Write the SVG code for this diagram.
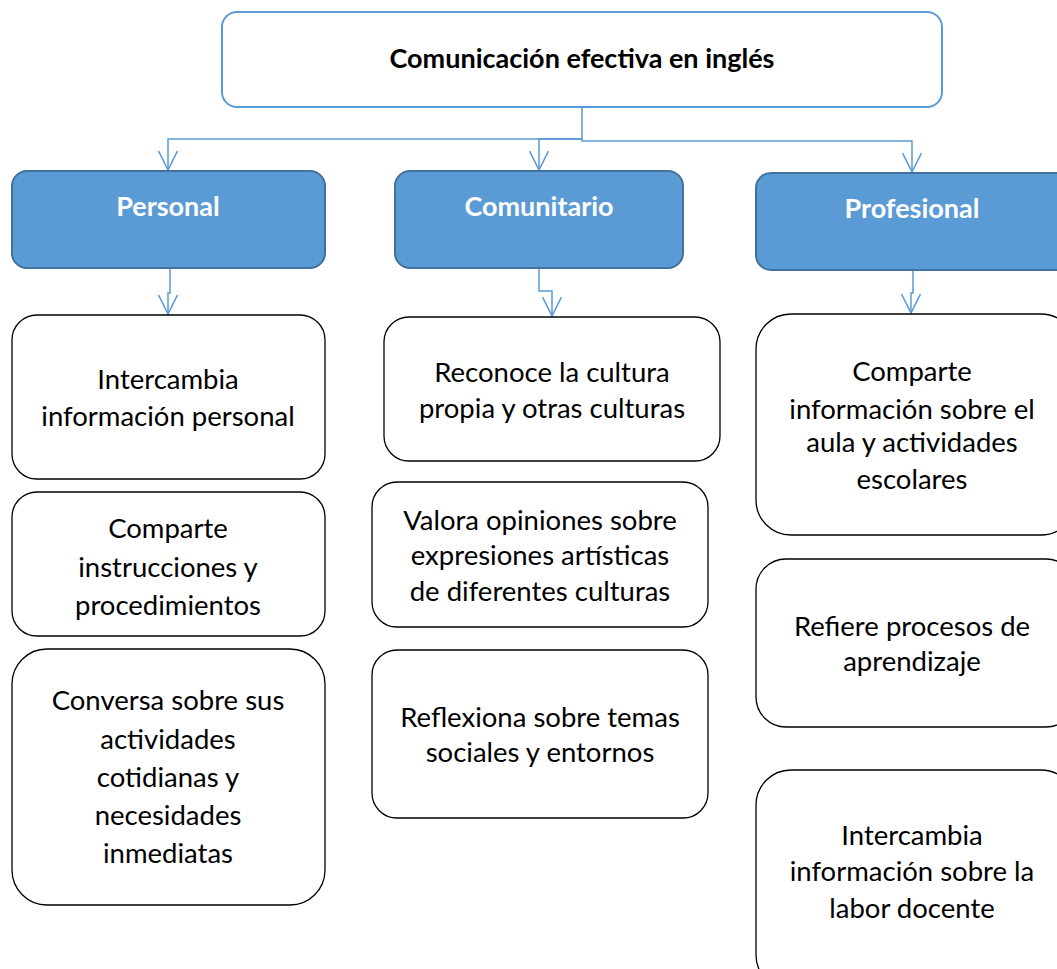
<svg xmlns="http://www.w3.org/2000/svg" width="1057" height="969" viewBox="0 0 1057 969">
<defs>
<marker id="arr" markerWidth="20" markerHeight="20" refX="16" refY="8" orient="auto" markerUnits="userSpaceOnUse" viewBox="0 0 17 16" overflow="visible">
<path d="M0,0 L16,8 L0,16" fill="none" stroke="#5b9bd5" stroke-width="1.3"/>
</marker>
<style>
.top{fill:#fff;stroke:#5b9bd5;stroke-width:2}
.cat{fill:#5b9bd5;stroke:#41719c;stroke-width:2}
.item{fill:#fff;stroke:#000;stroke-width:1.3}
.t{font-family:Lato,"Liberation Sans",sans-serif;font-size:27.5px;fill:#000;text-anchor:middle}
.h{font-family:Lato,"Liberation Sans",sans-serif;font-size:27px;font-weight:bold;fill:#000;text-anchor:middle}
.c{font-family:Lato,"Liberation Sans",sans-serif;font-size:27px;font-weight:bold;fill:#fff;text-anchor:middle}
.ln{fill:none;stroke:#5b9bd5;stroke-width:1.5}
</style>
</defs>
<g id="connectors">
<path class="ln" d="M582,107 V139 H168 V170" marker-end="url(#arr)"/>
<path class="ln" d="M582,139 H539 V170" marker-end="url(#arr)"/>
<path class="ln" d="M582,139 V141 H912 V172" marker-end="url(#arr)"/>
<path class="ln" d="M170,268 V293 H168 V314" marker-end="url(#arr)"/>
<path class="ln" d="M539,268 V291 H552 V316" marker-end="url(#arr)"/>
<path class="ln" d="M913,270 V293 H911 V313" marker-end="url(#arr)"/>
</g>
<g id="root">
<rect class="top" x="222" y="12" width="720" height="95" rx="15"/>
<text class="h" x="582" y="68">Comunicación efectiva en inglés</text>
</g>
<g id="personal">
<rect class="cat" x="12" y="171" width="313" height="97" rx="15"/>
<text class="c" x="168" y="216">Personal</text>
</g>
<g id="comunitario">
<rect class="cat" x="395" y="171" width="288" height="97" rx="15"/>
<text class="c" x="539" y="216">Comunitario</text>
</g>
<g id="profesional">
<rect class="cat" x="756" y="173" width="320" height="97" rx="15"/>
<text class="c" x="912" y="218">Profesional</text>
</g>
<g id="p1">
<rect class="item" x="12" y="315" width="313" height="164" rx="25"/>
<text class="t" x="168" y="389">Intercambia</text>
<text class="t" x="168" y="426">información personal</text>
</g>
<g id="p2">
<rect class="item" x="12" y="492" width="313" height="144" rx="25"/>
<text class="t" x="168" y="538">Comparte</text>
<text class="t" x="168" y="577">instrucciones y</text>
<text class="t" x="168" y="615">procedimientos</text>
</g>
<g id="p3">
<rect class="item" x="12" y="649" width="313" height="256" rx="35"/>
<text class="t" x="168" y="710">Conversa sobre sus</text>
<text class="t" x="168" y="749">actividades</text>
<text class="t" x="168" y="787">cotidianas y</text>
<text class="t" x="168" y="825">necesidades</text>
<text class="t" x="168" y="863">inmediatas</text>
</g>
<g id="c1">
<rect class="item" x="384" y="317" width="336" height="144" rx="25"/>
<text class="t" x="552" y="382">Reconoce la cultura</text>
<text class="t" x="552" y="418">propia y otras culturas</text>
</g>
<g id="c2">
<rect class="item" x="372" y="482" width="336" height="145" rx="25"/>
<text class="t" x="540" y="530">Valora opiniones sobre</text>
<text class="t" x="540" y="565">expresiones artísticas</text>
<text class="t" x="540" y="601">de diferentes culturas</text>
</g>
<g id="c3">
<rect class="item" x="372" y="650" width="336" height="168" rx="25"/>
<text class="t" x="540" y="727">Reflexiona sobre temas</text>
<text class="t" x="540" y="762">sociales y entornos</text>
</g>
<g id="f1">
<rect class="item" x="756" y="314" width="320" height="221" rx="35"/>
<text class="t" x="912" y="381">Comparte</text>
<text class="t" x="912" y="419">información sobre el</text>
<text class="t" x="912" y="452">aula y actividades</text>
<text class="t" x="912" y="489">escolares</text>
</g>
<g id="f2">
<rect class="item" x="756" y="559" width="320" height="168" rx="30"/>
<text class="t" x="912" y="636">Refiere procesos de</text>
<text class="t" x="912" y="671">aprendizaje</text>
</g>
<g id="f3">
<rect class="item" x="756" y="770" width="320" height="220" rx="35"/>
<text class="t" x="912" y="845">Intercambia</text>
<text class="t" x="912" y="881">información sobre la</text>
<text class="t" x="912" y="918">labor docente</text>
</g>
</svg>
